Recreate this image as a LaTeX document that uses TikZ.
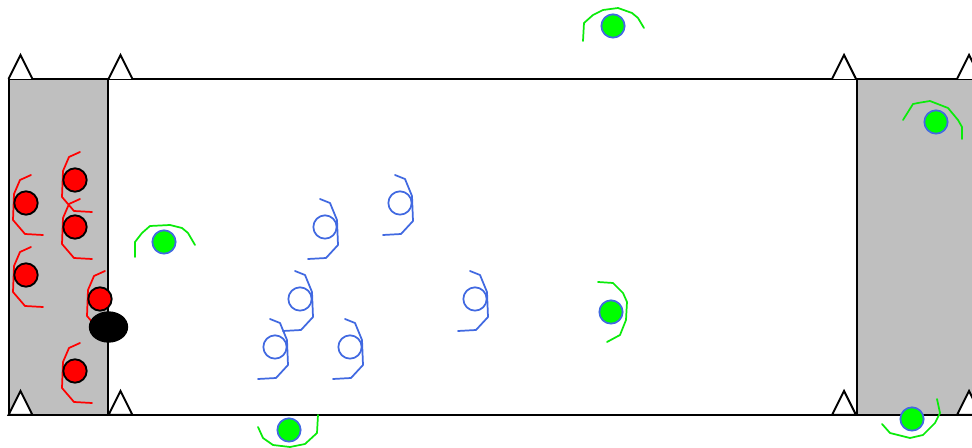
\documentclass[tikz,border=0pt]{standalone}
\usetikzlibrary{shapes.geometric}
\definecolor{bandgray}{RGB}{191,191,191}
\definecolor{rblue}{RGB}{65,105,225}
\definecolor{lime}{RGB}{0,255,0}
\definecolor{limearc}{RGB}{10,235,10}
\definecolor{redc}{RGB}{255,0,0}
\pgfdeclarelayer{bottomlayer}
\pgfdeclarelayer{arclayer}
\pgfsetlayers{bottomlayer,arclayer,main}
\tikzset{
  frameline/.style={draw=black, line width=1.5pt},
  tri/.style={draw=black, fill=white, line width=1.5pt, line join=miter},
  redball/.style={circle, draw=black, fill=redc, line width=1.4pt, minimum size=17.5pt, inner sep=0pt},
  blueball/.style={circle, draw=rblue, fill=none, line width=1.3pt, minimum size=17.5pt, inner sep=0pt},
  greenball/.style={circle, draw=rblue, fill=lime, line width=1.3pt, minimum size=17.5pt, inner sep=0pt},
  blackball/.style={ellipse, fill=black, minimum width=29.5pt, minimum height=23.5pt, inner sep=0pt},
  redarcline/.style={draw=redc, line width=1.3pt, line join=round, line cap=round},
  bluearcline/.style={draw=rblue, line width=1.3pt, line join=round, line cap=round},
  greenarcline/.style={draw=limearc, line width=1.3pt, line join=round, line cap=round},
}
\newcommand\myRedArc[1]{\draw[redarcline, shift={(#1.center)}] plot coordinates {(5,-28) (-6,-23) (-12,-9) (-13,17) (-1,31) (17,32)};}
\newcommand\myBlueArc[1]{\draw[bluearcline, shift={(#1.center)}] plot coordinates {(-5,-28) (5,-24) (12,-7) (13,18) (1,31) (-17,32)};}
\begin{document}
\begin{tikzpicture}[x=0.75pt, y=-0.75pt]
\useasboundingbox (0,0) rectangle (972,448);
\clip (0,0) rectangle (972,448);
\begin{pgfonlayer}{bottomlayer}
\fill[white] (0,0) rectangle (972,448);
\filldraw[frameline, fill=bandgray] (9,79) rectangle (108,415);
\draw[frameline] (108,79) rectangle (857,415);
\filldraw[frameline, fill=bandgray] (857,79) rectangle (990,415);
\foreach \tx in {20.5,120.5,844,969} {
  \draw[tri] (\tx-12,79) -- (\tx,55) -- (\tx+12,79);
  \draw[tri] (\tx-12,415) -- (\tx,391) -- (\tx+12,415) -- cycle;
}
\end{pgfonlayer}
% nodes
\node[redball] (r1) at (26,203) {};
\node[redball] (r2) at (75,180) {};
\node[redball] (r3) at (75,227) {};
\node[redball] (r4) at (26,275) {};
\node[redball] (r5) at (100,299) {};
\node[redball] (r6) at (75,371) {};
\node[blueball] (b1) at (325,227) {};
\node[blueball] (b2) at (400,203) {};
\node[blueball] (b3) at (300,299) {};
\node[blueball] (b4) at (275,347) {};
\node[blueball] (b5) at (350,347) {};
\node[blueball] (b6) at (475,299) {};
\node[greenball] (g1) at (613,26) {};
\node[greenball] (g2) at (936,122) {};
\node[greenball] (g3) at (164,242) {};
\node[greenball] (g4) at (611,312) {};
\node[greenball] (g5) at (912,419) {};
\node[greenball] (g6) at (289,430) {};
\node[blackball] (e) at (108.5,327) {};
\begin{pgfonlayer}{arclayer}
\myRedArc{r1}\myRedArc{r2}\myRedArc{r3}\myRedArc{r4}\myRedArc{r5}\myRedArc{r6}
\myBlueArc{b1}\myBlueArc{b2}\myBlueArc{b3}\myBlueArc{b4}\myBlueArc{b5}\myBlueArc{b6}
\draw[greenarcline, shift={(g1.center)}] plot coordinates {(-30,15) (-29,-3) (-20,-11) (-10,-16) (5,-18) (19,-13) (25,-8) (31,2)};
\draw[greenarcline, shift={(g2.center)}] plot coordinates {(-33,-2) (-23,-18) (-18,-19) (-6,-21) (12,-14) (22,-2) (26,5) (26,17)};
\draw[greenarcline, shift={(g3.center)}] plot coordinates {(-29,15) (-29,0) (-22,-9) (-14,-16) (6,-17) (18,-14) (24,-9) (31,3)};
\draw[greenarcline, shift={(g4.center)}] plot coordinates {(-13,-30) (2,-29) (12,-19) (16,-10) (15,8) (9,23) (-4,30)};
\draw[greenarcline, shift={(g5.center)}] plot coordinates {(-30,5) (-22,14) (-2,19) (11,16) (23,4) (28,-6) (25,-20)};
\draw[greenarcline, shift={(g6.center)}] plot coordinates {(-31,-3) (-26,8) (-16,15) (1,17) (16,14) (28,3) (29,-15)};
\end{pgfonlayer}
\end{tikzpicture}
\end{document}
